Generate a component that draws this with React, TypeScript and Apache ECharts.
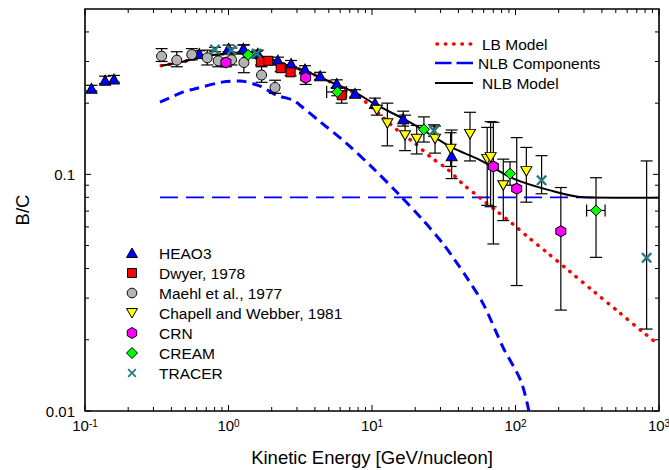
import React, { useEffect, useRef } from "react";
import * as echarts from "echarts";

const FONT = "'Liberation Sans', Arial, Helvetica, sans-serif";

// Axis ranges and tick values
const xRange = [0.1, 1000];
const yRange = [0.01, 0.5];
const xMajorTicks = [0.1, 1, 10, 100, 1000];
const xMinorTicks = [0.1, 1, 10, 100].flatMap((d) => [2, 3, 4, 5, 6, 7, 8, 9].map((m) => +(m * d).toPrecision(3)));
const yMajorTicks = [0.01, 0.1];
const yMinorTicks = [0.02, 0.03, 0.04, 0.05, 0.06, 0.07, 0.08, 0.09, 0.2, 0.3, 0.4];

// Model curves: [kinetic energy (GeV/n), B/C]
const nlbModel = [
  [0.34, 0.288], [0.48, 0.299], [0.7, 0.316], [1.0, 0.324], [1.4, 0.322], [1.9, 0.309],
  [2.54, 0.29], [3.51, 0.272], [4.83, 0.25], [7.81, 0.22], [10.8, 0.196], [16.5, 0.172],
  [22.7, 0.154], [35.9, 0.13], [56.6, 0.115], [96.7, 0.096], [174, 0.0856], [297, 0.08],
  [500, 0.0797], [1000, 0.0797],
];
const lbModel = [
  [0.34, 0.288], [0.48, 0.299], [0.7, 0.316], [1.0, 0.324], [1.4, 0.322], [1.9, 0.309],
  [2.54, 0.29], [3.51, 0.272], [4.83, 0.25], [7.0, 0.226], [9.25, 0.2], [11.7, 0.176],
  [15.2, 0.153], [19.7, 0.136], [25.8, 0.118], [33.7, 0.105], [43.3, 0.0907], [56.6, 0.0796],
  [74, 0.0699], [96.7, 0.0614], [125, 0.0537], [163, 0.0472], [240, 0.0388], [354, 0.0319],
  [528, 0.0261], [777, 0.0215], [1000, 0.019],
];
const nlbPrimary = [
  [0.333, 0.202], [0.484, 0.223], [0.569, 0.229], [0.92, 0.246], [1.2, 0.248], [1.66, 0.236],
  [2.17, 0.216], [2.83, 0.206], [3.15, 0.196], [4.35, 0.167], [6.67, 0.135], [10.2, 0.106],
  [15.2, 0.083], [22.7, 0.064], [31.4, 0.0508], [37.9, 0.0433], [45.7, 0.0367], [59.7, 0.0283],
  [82.2, 0.0185], [109, 0.0134], [124, 0.01],
];
const nlbSecondary = [
  [0.333, 0.08], [400, 0.08],
];

// Measurements: [E, B/C, B/C low, B/C high, E low, E high]
const heao3 = [
  [0.111, 0.231, 0.225, 0.238], [0.138, 0.25, 0.242, 0.26], [0.159, 0.253, 0.245, 0.262],
  [0.626, 0.324, 0.315, 0.333], [1.0, 0.341, 0.33, 0.352], [1.27, 0.341, 0.33, 0.352],
  [1.6, 0.325, 0.315, 0.335], [2.21, 0.304, 0.295, 0.313], [2.73, 0.294, 0.285, 0.303],
  [3.41, 0.279, 0.27, 0.288], [4.35, 0.261, 0.252, 0.27], [5.68, 0.242, 0.233, 0.251],
  [7.62, 0.22, 0.212, 0.228], [10.5, 0.2, 0.19, 0.21], [16.5, 0.172, 0.16, 0.185],
  [35.9, 0.12, 0.096, 0.154],
];
const dwyer = [
  [1.68, 0.299, 0.29, 0.308], [1.89, 0.302, 0.293, 0.311], [2.31, 0.281, 0.272, 0.29],
  [2.71, 0.27, 0.261, 0.279], [6.15, 0.216, 0.2, 0.225],
];
const maehl = [
  [0.342, 0.316, 0.3, 0.34], [0.436, 0.304, 0.285, 0.33], [0.555, 0.321, 0.305, 0.34],
  [0.711, 0.311, 0.29, 0.335], [0.849, 0.302, 0.285, 0.32], [1.05, 0.305, 0.29, 0.325],
  [1.28, 0.297, 0.269, 0.353], [1.7, 0.263, 0.245, 0.285], [2.11, 0.233, 0.22, 0.25],
];
const chapell = [
  [10.8, 0.187, 0.178, 0.196], [12.8, 0.164, 0.132, 0.2], [17, 0.146, 0.126, 0.178],
  [20.5, 0.141, 0.122, 0.161], [27.5, 0.141, 0.123, 0.16], [35.3, 0.128, 0.108, 0.15],
  [48.2, 0.148, 0.114, 0.183], [63.5, 0.116, 0.074, 0.158], [67.1, 0.118, 0.073, 0.167],
  [82.2, 0.0898, 0.0638, 0.116], [119, 0.103, 0.0763, 0.13],
];
const crn = [
  [0.96, 0.297, 0.285, 0.31], [3.45, 0.256, 0.24, 0.27], [70.1, 0.108, 0.0508, 0.166],
  [102, 0.087, 0.0339, 0.143], [207, 0.0575, 0.0267, 0.088],
];
const cream = [
  [1.37, 0.32, 0.312, 0.328], [5.73, 0.223, 0.215, 0.232, 4.83, 6.65],
  [23, 0.155, 0.137, 0.175], [91.6, 0.1007, 0.09, 0.113], [364, 0.0704, 0.0446, 0.0968, 313, 421],
];
const tracer = [
  [0.805, 0.337, 0.33, 0.344], [1.05, 0.335, 0.328, 0.342], [1.57, 0.324, 0.317, 0.331],
  [27, 0.153, 0.145, 0.162], [152, 0.0944, 0.0828, 0.12], [820, 0.0444, 0.0222, 0.114],
];

const BLUE = "#0000ff";
const RED = "#ff0000";
const GREY = "#b4b4b4";
const YELLOW = "#ffff00";
const MAGENTA = "#ff00ff";
const GREEN = "#00ff00";
const TEAL = "#2a7a7a";

const INV_TRIANGLE = "path://M0,0 L10,0 L5,8.66 Z";
const HEXAGON = "path://M5,0 L9.33,2.5 L9.33,7.5 L5,10 L0.67,7.5 L0.67,2.5 Z";
const CROSS =
  "path://M0,0.3 L0.7,1 L1,0.7 L0.3,0 L1,-0.7 L0.7,-1 L0,-0.3 L-0.7,-1 L-1,-0.7 L-0.3,0 L-1,0.7 L-0.7,1 Z";

const markerSets = [
  { name: "HEAO3", data: heao3, symbol: "triangle", size: [11, 10], color: BLUE, border: true },
  { name: "Dwyer, 1978", data: dwyer, symbol: "rect", size: [9, 9], color: RED, border: true },
  { name: "Maehl et al., 1977", data: maehl, symbol: "circle", size: [10, 10], color: GREY, border: true },
  { name: "Chapell and Webber, 1981", data: chapell, symbol: INV_TRIANGLE, size: [11, 9.5], color: YELLOW, border: true },
  { name: "CRN", data: crn, symbol: HEXAGON, size: [10, 11], color: MAGENTA, border: true },
  { name: "CREAM", data: cream, symbol: "diamond", size: [11, 11], color: GREEN, border: true },
  { name: "TRACER", data: tracer, symbol: CROSS, size: [11, 11], color: TEAL, border: false },
];

const TICK_MAJOR = 6;
const TICK_MINOR = 4;
const CAP = 6;

function xTickItem(params: any, api: any) {
  const cs = params.coordSys;
  const px = api.coord([api.value(0), 0.1])[0];
  const len = api.value(2);
  const style = { stroke: "#000", lineWidth: 1 };
  const bottom = cs.y + cs.height;
  return {
    type: "group",
    children: [
      { type: "line", shape: { x1: px, y1: bottom, x2: px, y2: bottom - len }, style },
      { type: "line", shape: { x1: px, y1: cs.y, x2: px, y2: cs.y + len }, style },
    ],
  };
}

function yTickItem(params: any, api: any) {
  const cs = params.coordSys;
  const py = api.coord([1, api.value(1)])[1];
  const len = api.value(2);
  const style = { stroke: "#000", lineWidth: 1 };
  const right = cs.x + cs.width;
  return {
    type: "group",
    children: [
      { type: "line", shape: { x1: cs.x, y1: py, x2: cs.x + len, y2: py }, style },
      { type: "line", shape: { x1: right, y1: py, x2: right - len, y2: py }, style },
    ],
  };
}

function errorBarItem(params: any, api: any) {
  const e = api.value(0);
  const v = api.value(1);
  const lo = api.value(2);
  const hi = api.value(3);
  const xl = api.value(4);
  const xh = api.value(5);
  const style = { stroke: "#000", lineWidth: 1.2 };
  const children: any[] = [];
  const top = api.coord([e, hi]);
  const bot = api.coord([e, lo]);
  children.push({ type: "line", shape: { x1: top[0], y1: top[1], x2: bot[0], y2: bot[1] }, style });
  children.push({ type: "line", shape: { x1: top[0] - CAP, y1: top[1], x2: top[0] + CAP, y2: top[1] }, style });
  children.push({ type: "line", shape: { x1: bot[0] - CAP, y1: bot[1], x2: bot[0] + CAP, y2: bot[1] }, style });
  if (xl > 0 && xh > 0) {
    const l = api.coord([xl, v]);
    const r = api.coord([xh, v]);
    children.push({ type: "line", shape: { x1: l[0], y1: l[1], x2: r[0], y2: r[1] }, style });
    children.push({ type: "line", shape: { x1: l[0], y1: l[1] - CAP, x2: l[0], y2: l[1] + CAP }, style });
    children.push({ type: "line", shape: { x1: r[0], y1: r[1] - CAP, x2: r[0], y2: r[1] + CAP }, style });
  }
  return { type: "group", children };
}

function isDecade(v: number) {
  const e = Math.log10(v);
  return Math.abs(e - Math.round(e)) < 1e-6;
}

// Legend drawn as graphic elements
function buildLegends() {
  const els: any[] = [];
  const lineLegend = [
    { name: "LB Model", x0: 437, x1: 471, tx: 482, y: 44, style: { stroke: RED, lineWidth: 3.5, lineDash: [0.5, 7.8], lineCap: "round" } },
    { name: "NLB Components", x0: 435, x1: 473, tx: 478, y: 63, style: { stroke: BLUE, lineWidth: 2.6, lineDash: [16.5, 5] } },
    { name: "NLB Model", x0: 435, x1: 473, tx: 482, y: 83, style: { stroke: "#000", lineWidth: 2 } },
  ];
  lineLegend.forEach((it) => {
    els.push({ type: "line", shape: { x1: it.x0, y1: it.y, x2: it.x1, y2: it.y }, style: it.style, silent: true });
    els.push({
      type: "text",
      x: it.tx,
      y: it.y,
      style: { text: it.name, fill: "#000", font: `15.5px ${FONT}`, align: "left", verticalAlign: "middle" },
      silent: true,
    });
  });

  const sx = 132;
  const tx = 159;
  const y0 = 253;
  const dy = 20;
  markerSets.forEach((m, i) => {
    const y = y0 + i * dy;
    const st = { fill: m.color, stroke: "#000", lineWidth: 1 };
    let shape: any;
    if (m.name === "HEAO3") {
      shape = { type: "polygon", shape: { points: [[sx, y - 5], [sx + 5.5, y + 4.5], [sx - 5.5, y + 4.5]] }, style: st };
    } else if (m.name === "Dwyer, 1978") {
      shape = { type: "rect", shape: { x: sx - 4.5, y: y - 4.5, width: 9, height: 9 }, style: st };
    } else if (m.name === "Maehl et al., 1977") {
      shape = { type: "circle", shape: { cx: sx, cy: y, r: 4.8 }, style: st };
    } else if (m.name === "Chapell and Webber, 1981") {
      shape = { type: "polygon", shape: { points: [[sx - 5.5, y - 4.5], [sx + 5.5, y - 4.5], [sx, y + 5]] }, style: st };
    } else if (m.name === "CRN") {
      shape = {
        type: "polygon",
        shape: { points: [[sx, y - 5.5], [sx + 4.7, y - 2.75], [sx + 4.7, y + 2.75], [sx, y + 5.5], [sx - 4.7, y + 2.75], [sx - 4.7, y - 2.75]] },
        style: st,
      };
    } else if (m.name === "CREAM") {
      shape = { type: "polygon", shape: { points: [[sx, y - 5.5], [sx + 5.5, y], [sx, y + 5.5], [sx - 5.5, y]] }, style: st };
    } else {
      const a = 4.5;
      const w = 1.3;
      shape = {
        type: "polygon",
        shape: {
          points: [
            [sx, y - w], [sx + a - w, y - a], [sx + a, y - a + w], [sx + w, y], [sx + a, y + a - w], [sx + a - w, y + a],
            [sx, y + w], [sx - a + w, y + a], [sx - a, y + a - w], [sx - w, y], [sx - a, y - a + w], [sx - a + w, y - a],
          ],
        },
        style: { fill: m.color },
      };
    }
    shape.silent = true;
    els.push(shape);
    els.push({
      type: "text",
      x: tx,
      y,
      style: { text: m.name, fill: "#000", font: `15.5px ${FONT}`, align: "left", verticalAlign: "middle" },
      silent: true,
    });
  });
  return els;
}

export default function App() {
  const ref = useRef<HTMLDivElement>(null);

  useEffect(() => {
    if (!ref.current) return;
    const chart = echarts.init(ref.current, undefined, { renderer: "svg" });

    const pad = (d: number[]) => [d[0], d[1], d[2], d[3], d[4] ?? 0, d[5] ?? 0];

    const series: any[] = [
      {
        type: "custom",
        name: "xticks",
        silent: true,
        renderItem: xTickItem,
        data: [...xMajorTicks.map((v) => [v, 0.1, TICK_MAJOR]), ...xMinorTicks.map((v) => [v, 0.1, TICK_MINOR])],
        z: 10,
      },
      {
        type: "custom",
        name: "yticks",
        silent: true,
        renderItem: yTickItem,
        data: [...yMajorTicks.map((v) => [1, v, TICK_MAJOR]), ...yMinorTicks.map((v) => [1, v, TICK_MINOR])],
        z: 10,
      },
      {
        type: "line",
        name: "NLB Components",
        data: nlbSecondary,
        symbol: "none",
        silent: true,
        lineStyle: { color: BLUE, width: 1.8, type: [18, 8] },
        z: 2,
      },
      {
        type: "line",
        name: "NLB Components",
        data: nlbPrimary,
        symbol: "none",
        smooth: 0.3,
        silent: true,
        lineStyle: { color: BLUE, width: 3, type: [10, 6] },
        z: 2,
      },
      {
        type: "line",
        name: "LB Model",
        data: lbModel,
        symbol: "none",
        smooth: 0.3,
        silent: true,
        lineStyle: { color: RED, width: 3.5, type: [0.5, 7.8], cap: "round" },
        z: 2,
      },
      {
        type: "line",
        name: "NLB Model",
        data: nlbModel,
        symbol: "none",
        smooth: 0.3,
        silent: true,
        lineStyle: { color: "#000", width: 2 },
        z: 3,
      },
    ];

    markerSets.forEach((m) => {
      series.push({
        type: "custom",
        name: m.name + " errors",
        silent: true,
        renderItem: errorBarItem,
        data: m.data.map(pad),
        z: 4,
      });
    });
    markerSets.forEach((m) => {
      series.push({
        type: "scatter",
        name: m.name,
        data: m.data.map((d) => [d[0], d[1]]),
        symbol: m.symbol,
        symbolSize: m.size,
        silent: true,
        itemStyle: m.border
          ? { color: m.color, borderColor: "#000", borderWidth: 1, opacity: 1 }
          : { color: m.color, borderWidth: 0, opacity: 1 },
        z: 5,
      });
    });

    chart.setOption({
      animation: false,
      backgroundColor: "#fff",
      textStyle: { fontFamily: FONT },
      grid: {
        left: 85,
        top: 9,
        width: 574,
        height: 402,
        show: true,
        borderColor: "#000",
        borderWidth: 1.6,
        backgroundColor: "transparent",
        containLabel: false,
        outerBoundsMode: "none",
      },
      xAxis: {
        type: "log",
        logBase: 10,
        min: xRange[0],
        max: xRange[1],
        name: "Kinetic Energy [GeV/nucleon]",
        nameLocation: "middle",
        nameGap: 37,
        nameTextStyle: { fontSize: 18.5, color: "#000", fontFamily: FONT },
        axisLine: { show: false },
        axisTick: { show: false },
        splitLine: { show: false },
        minorTick: { show: false },
        axisLabel: {
          margin: 7,
          color: "#000",
          formatter: (v: number) => (isDecade(v) ? `{b|10}{s|${Math.round(Math.log10(v))}}` : ""),
          rich: {
            b: { fontSize: 15, fontFamily: FONT, color: "#000" },
            s: { fontSize: 10, fontFamily: FONT, color: "#000", verticalAlign: "top" },
          },
        },
      },
      yAxis: {
        type: "log",
        logBase: 10,
        min: yRange[0],
        max: yRange[1],
        name: "B/C",
        nameLocation: "middle",
        nameGap: 53,
        nameRotate: 90,
        nameTextStyle: { fontSize: 18.5, color: "#000", fontFamily: FONT },
        axisLine: { show: false },
        axisTick: { show: false },
        splitLine: { show: false },
        minorTick: { show: false },
        axisLabel: {
          margin: 10,
          color: "#000",
          fontSize: 15,
          fontFamily: FONT,
          showMaxLabel: false,
          formatter: (v: number) => (isDecade(v) ? String(Number(v.toPrecision(6))) : ""),
        },
      },
      graphic: buildLegends(),
      series,
    });

    return () => chart.dispose();
  }, []);

  return <div ref={ref} style={{ position: "fixed", left: 0, top: 0, width: 669, height: 470 }} />;
}
